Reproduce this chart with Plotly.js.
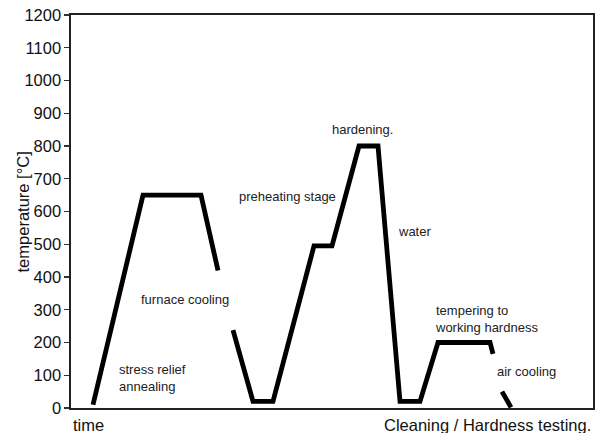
<!DOCTYPE html>
<html>
<head>
<meta charset="utf-8">
<script src="https://cdn.plot.ly/plotly-3.0.1.min.js"></script>
<style>html,body{margin:0;padding:0;background:#fff;}#chart{width:600px;height:433px;}</style>
</head>
<body>
<div id="chart"></div>
<script>
// Segment 1: stress relief annealing + furnace cooling (first part)
const seg1Time = [22, 72, 130, 147];
const seg1Temp = [10, 650, 650, 420];
// Segment 2: furnace cooling end, preheating, hardening, water, tempering
const seg2Time = [162, 182, 202, 243, 261, 288, 307, 329, 349, 367, 419, 422];
const seg2Temp = [238, 20, 20, 495, 495, 800, 800, 20, 20, 200, 200, 165];
// Segment 3: air cooling end
const seg3Time = [431, 440];
const seg3Temp = [50, 2];

const yTicks = [0,100,200,300,400,500,600,700,800,900,1000,1100,1200];

const labels = ["stress relief<br>annealing", "furnace cooling", "preheating stage", "hardening.", "water", "tempering to<br>working hardness", "air cooling"];
const labelX = [46, 68, 166, 291, 325, 362, 424];
const labelY = [92, 331, 646, 850, 539, 272, 111];
const labelAnchor = ["left","left","left","center","left","left","left"];

const FONT = 'Liberation Sans, Arial, sans-serif';
const lineStyle = {color: '#000', width: 4.8};
const traces = [
  {x: seg1Time, y: seg1Temp, mode: 'lines', line: lineStyle, hoverinfo: 'skip'},
  {x: seg2Time, y: seg2Temp, mode: 'lines', line: lineStyle, hoverinfo: 'skip'},
  {x: seg3Time, y: seg3Temp, mode: 'lines', line: lineStyle, hoverinfo: 'skip'}
];

const annotations = labels.map((t, i) => ({
  text: t, x: labelX[i], y: labelY[i], xref: 'x', yref: 'y',
  xanchor: labelAnchor[i], yanchor: 'middle', align: 'left', showarrow: false,
  font: {family: FONT, size: 13, color: '#222'}
}));
annotations.push({
  text: 'time', x: 0, y: -0.042, xref: 'paper', yref: 'paper',
  xanchor: 'left', yanchor: 'middle', showarrow: false,
  font: {family: FONT, size: 16.5, color: '#111'}
});
annotations.push({
  text: 'Cleaning / Hardness testing.', x: 1, y: -0.042, xref: 'paper', yref: 'paper',
  xanchor: 'right', yanchor: 'middle', showarrow: false,
  font: {family: FONT, size: 16.5, color: '#111'}
});
annotations.push({
  text: 'temperature [°C]', x: -0.092, y: 0.5, xref: 'paper', yref: 'paper',
  xanchor: 'center', yanchor: 'middle', textangle: -90, showarrow: false,
  font: {family: FONT, size: 16.5, color: '#111'}
});

const layout = {
  width: 600, height: 433,
  margin: {l: 71, r: 7, t: 15, b: 24.5, pad: 0},
  paper_bgcolor: '#fff', plot_bgcolor: '#fff',
  showlegend: false,
  font: {family: FONT, color: '#111'},
  xaxis: {
    range: [0, 522], showgrid: false, zeroline: false,
    showticklabels: false, ticks: '',
    showline: true, mirror: true, linecolor: '#222', linewidth: 1.6
  },
  yaxis: {
    range: [0, 1200], tickvals: yTicks, ticktext: yTicks.map(String),
    showgrid: false, zeroline: false,
    ticks: 'outside', ticklen: 5, tickwidth: 1.2, tickcolor: '#333',
    tickfont: {size: 16.5, color: '#111'},
    showline: true, mirror: true, linecolor: '#222', linewidth: 1.6
  },
  annotations: annotations
};

Plotly.newPlot('chart', traces, layout, {displayModeBar: false, staticPlot: true});
</script>
</body>
</html>
